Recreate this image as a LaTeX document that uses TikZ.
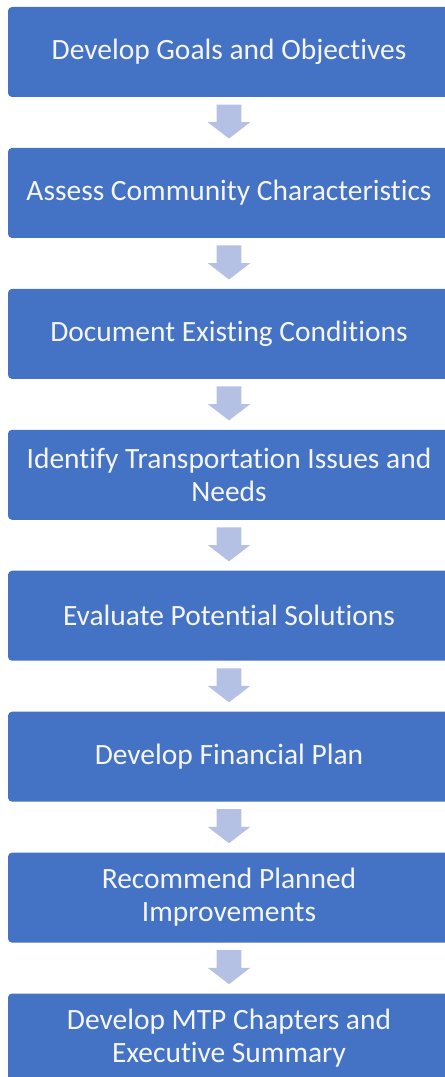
\documentclass[tikz,border=0pt]{standalone}
\usepackage{fontspec}
\setmainfont{Carlito}[Ligatures={NoCommon,NoContextual}]
\usetikzlibrary{positioning, shapes.arrows, calc}
\definecolor{stepblue}{RGB}{68,114,196}
\definecolor{arrowblue}{RGB}{180,193,228}
\definecolor{textwhite}{RGB}{245,245,245}
\tikzset{
    stepbox/.style={
        rectangle, rounded corners=3pt, fill=stepblue, text=textwhite,
        minimum width=331.5pt, minimum height=67.5pt, inner sep=0pt,
        align=center, font=\fontsize{22.1}{24.75}\selectfont
    },
    downarrow/.style={
        single arrow, fill=arrowblue, shape border rotate=270,
        minimum height=25.5pt, inner xsep=9pt, inner ysep=0pt,
        single arrow head extend=6.75pt, single arrow tip angle=105,
        anchor=tail
    }
}

\begin{document}
\begin{tikzpicture}[x=0.75pt, y=-0.75pt, node distance=37.8pt]

\useasboundingbox (0,0) rectangle (445,1077);

% Steps
\node[stepbox] (goals) at (229,52) {Develop Goals and Objectives};
\node[stepbox, below=of goals] (assess) {Assess Community Characteristics};
\node[stepbox, below=of assess] (existing) {Document Existing Conditions};
\node[stepbox, below=of existing] (issues) {Identify Transportation Issues and\\Needs};
\node[stepbox, below=of issues] (solutions) {Evaluate Potential Solutions};
\node[stepbox, below=of solutions] (financial) {Develop Financial Plan};
\node[stepbox, below=of financial] (improve) {Recommend Planned\\Improvements};
\node[stepbox, below=of improve] (chapters) {Develop MTP Chapters and\\Executive Summary};

% Arrows between steps
\foreach \a in {goals, assess, existing, issues, solutions, financial, improve}
    \node[downarrow] (arr-\a) at ($(\a.south)+(0,7)$) {};

\end{tikzpicture}
\end{document}
